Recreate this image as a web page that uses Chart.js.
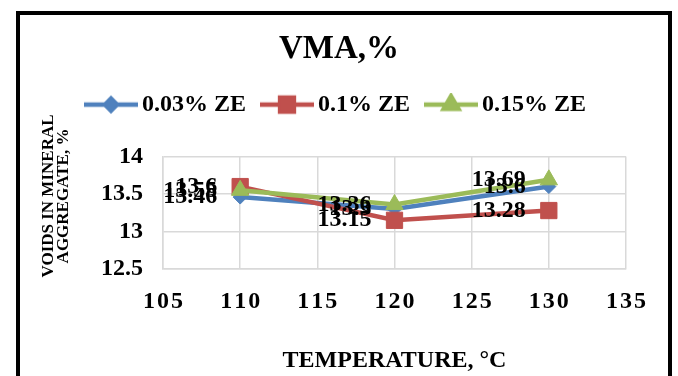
<!DOCTYPE html>
<html>
<head>
<meta charset="utf-8">
<script src="https://cdn.jsdelivr.net/npm/chart.js@4/dist/chart.umd.min.js"></script>
<style>
  html, body { margin: 0; padding: 0; background: #fff; }
  #wrap { position: relative; width: 678px; height: 376px; overflow: hidden; }
  #vma { position: absolute; left: 0; top: 0; }
  #frame { position: absolute; left: 16px; top: 11px; width: 648px; height: 420px; border: 4px solid #000; pointer-events: none; }
</style>
</head>
<body>
<div id="wrap">
  <canvas id="vma" width="678" height="376"></canvas>
  <div id="frame"></div>
</div>
<script>
// mixing temperatures (°C) and VMA values for each ZE dosage
const temps = [110, 120, 130];
const ze003 = [13.46, 13.3, 13.6];
const ze01 = [13.6, 13.15, 13.28];
const ze015 = [13.55, 13.36, 13.69];
const seriesNames = ['0.03% ZE', '0.1% ZE', '0.15% ZE'];
const xTicks = [105, 110, 115, 120, 125, 130, 135];
const yTicks = [12.5, 13, 13.5, 14];
const yTitleLines = ['VOIDS IN MINERAL', 'AGGREGATE, %'];

const colors = ['#4F81BD', '#C0504D', '#9BBB59'];
const styles = ['rectRot', 'rect', 'triangle'];
const radii = [7, 11.5, 10];
const serif = '"Liberation Serif", "Times New Roman", serif';

const toPoints = vals => temps.map((t, i) => ({ x: t, y: vals[i] }));

// small line+marker images used as legend symbols
function makeIcon(i) {
  const c = document.createElement('canvas');
  c.width = 54; c.height = 24;
  const g = c.getContext('2d');
  g.strokeStyle = colors[i];
  g.lineWidth = 4.5;
  g.beginPath(); g.moveTo(0, 12); g.lineTo(54, 12); g.stroke();
  g.fillStyle = colors[i];
  Chart.helpers.drawPoint(g, { pointStyle: styles[i], radius: radii[i] * 0.85, borderWidth: 1 }, 27, 12);
  g.fill();
  return c;
}
const icons = [0, 1, 2].map(makeIcon);

// value labels to the left of every point
const valueLabels = {
  id: 'valueLabels',
  afterDatasetsDraw(chart) {
    const ctx = chart.ctx;
    ctx.save();
    ctx.font = 'bold 24px ' + serif;
    ctx.fillStyle = '#000';
    ctx.textAlign = 'right';
    ctx.textBaseline = 'middle';
    chart.data.datasets.forEach((ds, i) => {
      chart.getDatasetMeta(i).data.forEach((pt, j) => {
        ctx.fillText(String(ds.data[j].y), pt.x - 23, pt.y);
      });
    });
    ctx.restore();
  }
};

// two-line rotated caption for the y axis
const yCaption = {
  id: 'yCaption',
  afterDraw(chart) {
    const ctx = chart.ctx;
    ctx.save();
    ctx.translate(49, 196);
    ctx.rotate(-Math.PI / 2);
    ctx.font = 'bold 17px ' + serif;
    ctx.fillStyle = '#000';
    ctx.textAlign = 'center';
    ctx.textBaseline = 'middle';
    yTitleLines.forEach((t, i) => ctx.fillText(t, 0, i * 14.5));
    ctx.restore();
  }
};

const datasets = [ze003, ze01, ze015].map((vals, i) => ({
  label: seriesNames[i],
  data: toPoints(vals),
  borderColor: colors[i],
  backgroundColor: colors[i],
  borderWidth: 4.5,
  pointStyle: styles[i],
  pointRadius: radii[i],
  pointBorderWidth: 1,
  order: 3 - i,
  tension: 0
}));

const tickFont = { family: serif, size: 24, weight: 'bold' };

new Chart(document.getElementById('vma'), {
  type: 'line',
  data: { datasets },
  plugins: [valueLabels, yCaption],
  options: {
    responsive: false,
    animation: false,
    devicePixelRatio: 1,
    layout: { padding: 0 },
    plugins: {
      tooltip: { enabled: false },
      title: {
        display: true,
        text: 'VMA,%',
        color: '#000',
        font: { family: serif, size: 33, weight: 'bold' },
        padding: { top: 30, bottom: 1 }
      },
      legend: {
        display: true,
        labels: {
          color: '#000',
          font: { family: serif, size: 24, weight: 'bold' },
          padding: 22,
          usePointStyle: true,
          pointStyleWidth: 38,
          generateLabels: chart => chart.data.datasets.map((ds, i) => ({
            text: ds.label,
            fillStyle: ds.borderColor,
            strokeStyle: ds.borderColor,
            fontColor: '#000',
            lineWidth: 0,
            pointStyle: icons[i],
            hidden: false,
            datasetIndex: i
          }))
        }
      }
    },
    scales: {
      x: {
        type: 'linear',
        position: 'bottom',
        min: xTicks[0],
        max: xTicks[xTicks.length - 1],
        afterBuildTicks: s => { s.ticks = xTicks.map(v => ({ value: v })); },
        ticks: {
          color: '#000',
          padding: 18,
          font: tickFont,
          callback: v => String(v).split('').join('\u200A')
        },
        grid: { color: '#d9d9d9', lineWidth: 1.5, drawTicks: false },
        border: { color: '#d9d9d9', width: 1.5 },
        title: {
          display: true,
          text: 'TEMPERATURE, °C',
          color: '#000',
          font: { family: serif, size: 24, weight: 'bold' },
          padding: { top: 0, bottom: 1 }
        },
        afterFit: s => { s.height = 107; }
      },
      y: {
        type: 'linear',
        position: 'left',
        min: yTicks[0],
        max: yTicks[yTicks.length - 1],
        afterBuildTicks: s => { s.ticks = yTicks.map(v => ({ value: v })); },
        ticks: {
          color: '#000',
          padding: 20,
          font: tickFont,
          callback: v => String(v)
        },
        grid: { color: '#d9d9d9', lineWidth: 1.5, drawTicks: false },
        border: { color: '#d9d9d9', width: 1.5 },
        afterFit: s => { s.width = 163; }
      },
      // spacers that keep the plot box in place
      xTop: {
        type: 'linear', position: 'top', display: true,
        grid: { display: false }, ticks: { display: false }, border: { display: false },
        afterFit: s => { s.height = 30; }
      },
      yRight: {
        type: 'linear', position: 'right', display: true,
        grid: { display: false }, ticks: { display: false }, border: { display: false },
        afterFit: s => { s.width = 52; }
      }
    }
  }
});
</script>
</body>
</html>
